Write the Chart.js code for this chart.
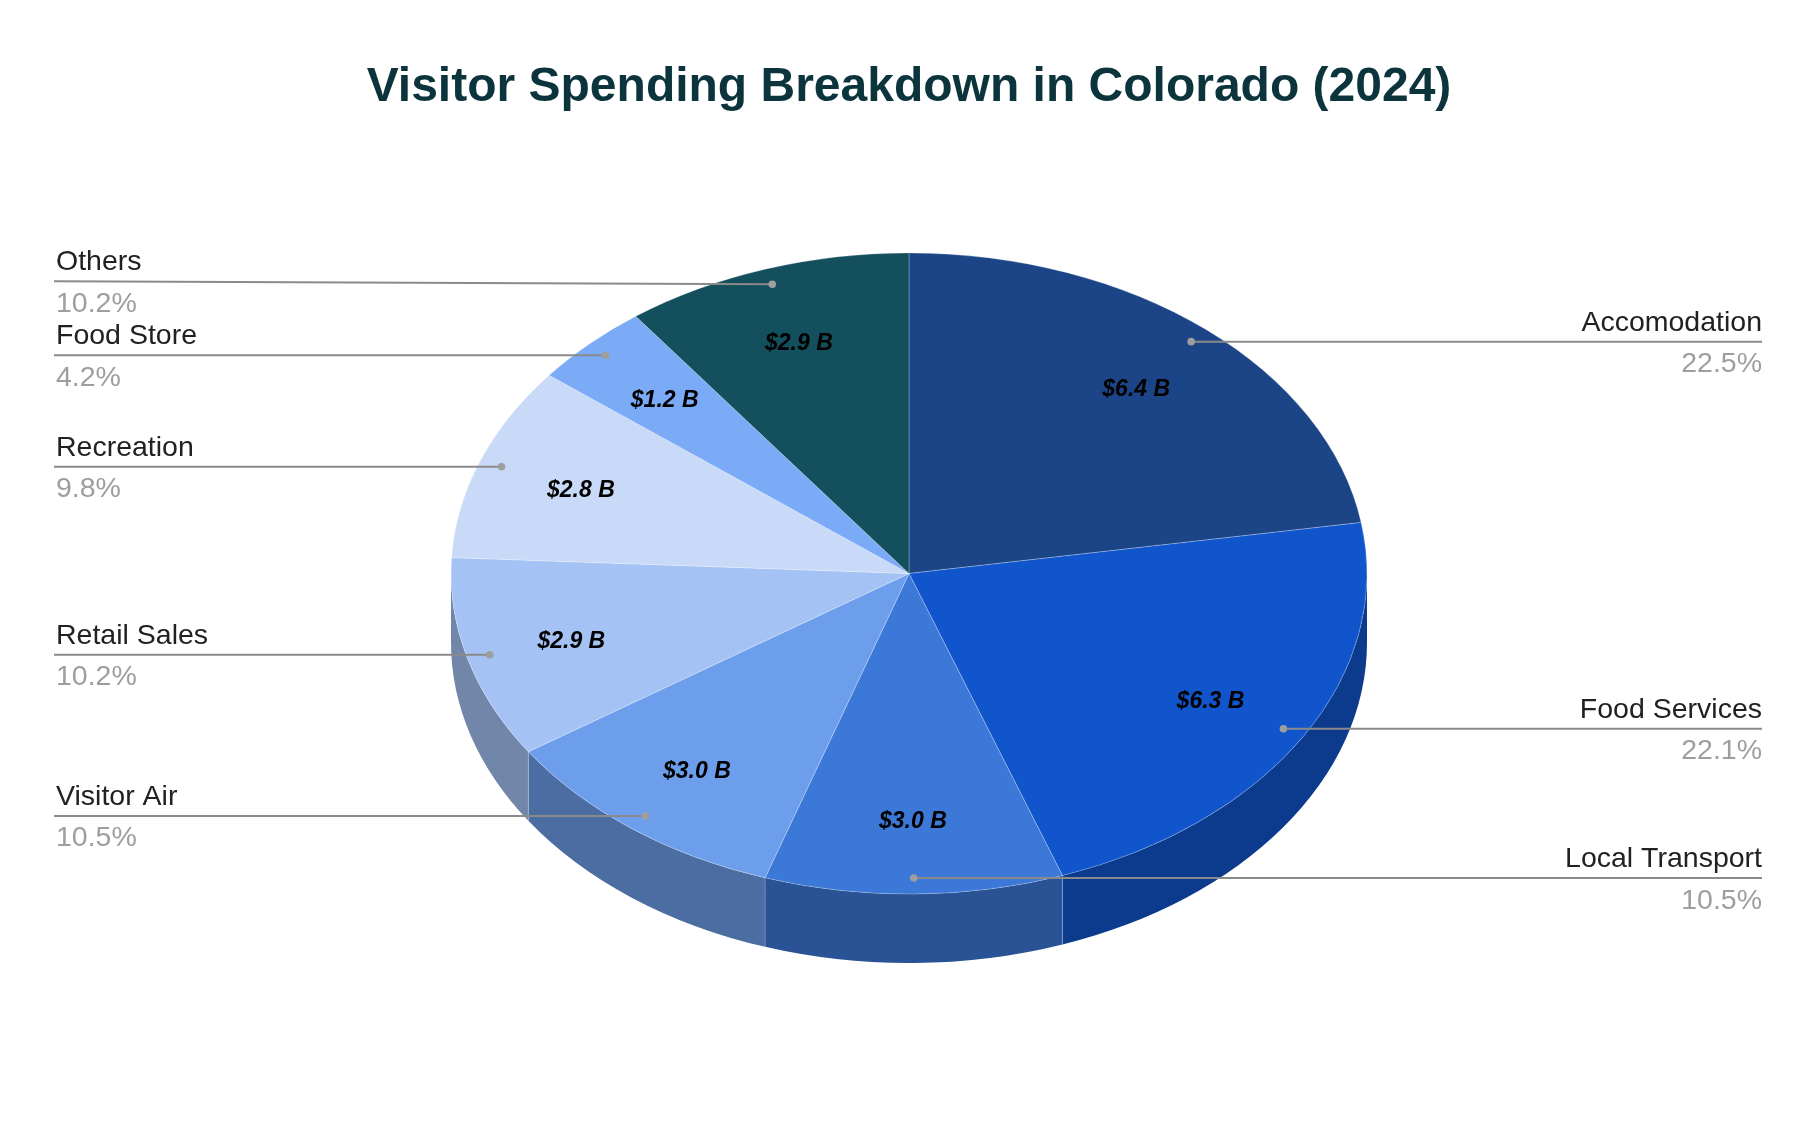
<!DOCTYPE html>
<html>
<head>
<meta charset="utf-8">
<title>Visitor Spending Breakdown in Colorado (2024)</title>
<script src="https://cdn.jsdelivr.net/npm/chart.js@4.4.1/dist/chart.umd.min.js"></script>
<style>
	html, body { margin: 0; padding: 0; background: #fff; }
	#wrap { width: 1818px; height: 1122px; position: relative; }
</style>
</head>
<body>
<div id="wrap"><canvas id="spending"></canvas></div>
<script>
var categories = ['Accomodation', 'Food Services', 'Local Transport', 'Visitor Air', 'Retail Sales', 'Recreation', 'Food Store', 'Others'];
var spending = [6.4, 6.3, 3.0, 3.0, 2.9, 2.8, 1.2, 2.9]; // billions of dollars

var colours = ['#1c4587', '#1155cc', '#3c78d8', '#6d9eeb', '#a4c2f4', '#c9daf8', '#7baaf7', '#134f5c'];

var radius = 458;
var tilt = 0.7;     // vertical squash of the pie
var depth = 69;     // thickness of the 3d side
var font = '"Liberation Sans", Arial, sans-serif';
var labelLeft = 56;
var labelRight = 1762;

function darker(hex, f) {
	var n = parseInt(hex.slice(1), 16);
	var r = Math.round(((n >> 16) & 255) * f);
	var g = Math.round(((n >> 8) & 255) * f);
	var b = Math.round((n & 255) * f);
	return 'rgb(' + r + ',' + g + ',' + b + ')';
}

function getArcs(chart) {
	return chart.getDatasetMeta(0).data.map(function(a) {
		return a.getProps(['x', 'y', 'startAngle', 'endAngle', 'outerRadius'], true);
	});
}

function onEllipse(a, angle, r) {
	return {
		x: a.x + r * Math.cos(angle),
		y: a.y + r * tilt * Math.sin(angle)
	};
}

function spread(items, gap) {
	items.sort(function(a, b) { return a.y - b.y; });
	for (var i = items.length - 2; i >= 0; i--) {
		if (items[i].y > items[i + 1].y - gap) {
			items[i].y = items[i + 1].y - gap;
		}
	}
}

var pie3d = {
	id: 'pie3d',
	beforeDatasetsDraw: function(chart) {
		var ctx = chart.ctx;
		var arcs = getArcs(chart);
		var c = arcs[0];

		// side walls, only the front half shows
		arcs.forEach(function(a, i) {
			var s = Math.max(a.startAngle, 0);
			var e = Math.min(a.endAngle, Math.PI);
			if (e <= s) return;
			var ry = a.outerRadius * tilt;
			ctx.beginPath();
			ctx.ellipse(a.x, a.y, a.outerRadius, ry, 0, s, e, false);
			ctx.ellipse(a.x, a.y + depth, a.outerRadius, ry, 0, e, s, true);
			ctx.closePath();
			ctx.fillStyle = darker(colours[i], 0.69);
			ctx.fill();
		});

		ctx.strokeStyle = 'rgba(255,255,255,0.25)';
		ctx.lineWidth = 1;
		arcs.forEach(function(a) {
			if (a.startAngle > 0 && a.startAngle < Math.PI) {
				var p = onEllipse(a, a.startAngle, a.outerRadius);
				ctx.beginPath();
				ctx.moveTo(p.x, p.y);
				ctx.lineTo(p.x, p.y + depth);
				ctx.stroke();
			}
		});

		ctx.save();
		ctx.translate(c.x, c.y);
		ctx.scale(1, tilt);
		ctx.translate(-c.x, -c.y);
	},
	afterDatasetsDraw: function(chart) {
		var ctx = chart.ctx;
		ctx.restore();

		var arcs = getArcs(chart);
		var total = spending.reduce(function(s, v) { return s + v; }, 0);

		// values inside the slices
		ctx.font = 'italic bold 23px ' + font;
		ctx.fillStyle = '#000';
		ctx.textAlign = 'center';
		ctx.textBaseline = 'middle';
		arcs.forEach(function(a, i) {
			var mid = (a.startAngle + a.endAngle) / 2;
			var p = onEllipse(a, mid, a.outerRadius * 0.765);
			ctx.fillText('$' + spending[i].toFixed(1) + ' B', p.x, p.y + 3);
		});

		// leader lines + labels
		var left = [];
		var right = [];
		arcs.forEach(function(a, i) {
			var mid = (a.startAngle + a.endAngle) / 2;
			var dot = onEllipse(a, mid, a.outerRadius * 0.95);
			var item = { i: i, dot: dot, y: dot.y };
			if (Math.cos(mid) < 0) left.push(item); else right.push(item);
		});
		spread(left, 74);
		spread(right, 74);

		function drawLabel(item, isLeft) {
			var x = isLeft ? labelLeft : labelRight;
			ctx.strokeStyle = '#8a8a8a';
			ctx.lineWidth = 2;
			ctx.beginPath();
			ctx.moveTo(isLeft ? x - 2 : x, item.y);
			ctx.lineTo(item.dot.x, item.dot.y);
			ctx.stroke();

			ctx.fillStyle = '#9e9e9e';
			ctx.beginPath();
			ctx.arc(item.dot.x, item.dot.y, 3.8, 0, Math.PI * 2);
			ctx.fill();

			ctx.textAlign = isLeft ? 'left' : 'right';
			ctx.textBaseline = 'alphabetic';
			ctx.font = '28.5px ' + font;
			ctx.fillStyle = '#212121';
			ctx.fillText(categories[item.i], x, item.y - 11);
			ctx.fillStyle = '#9e9e9e';
			ctx.fillText((spending[item.i] / total * 100).toFixed(1) + '%', x, item.y + 30.5);
		}

		left.forEach(function(item) { drawLabel(item, true); });
		right.forEach(function(item) { drawLabel(item, false); });
	}
};

var config = {
	type: 'pie',
	data: {
		labels: categories,
		datasets: [{
			data: spending,
			backgroundColor: colours,
			borderColor: 'rgba(255,255,255,0.3)',
			borderWidth: 1,
			radius: radius,
			clip: false
		}]
	},
	options: {
		responsive: true,
		maintainAspectRatio: false,
		animation: false,
		events: [],
		layout: {
			padding: { top: 0, bottom: 91.6, left: 0, right: 0 }
		},
		plugins: {
			legend: { display: false },
			tooltip: { enabled: false },
			title: {
				display: true,
				text: 'Visitor Spending Breakdown in Colorado (2024)',
				color: '#0c343d',
				font: { family: font, size: 48, weight: 'bold', lineHeight: 1.2 },
				padding: { top: 59, bottom: 0 }
			}
		}
	},
	plugins: [pie3d]
};

const spendingChart = new Chart(
	document.getElementById('spending'),
	config
);
</script>
</body>
</html>
